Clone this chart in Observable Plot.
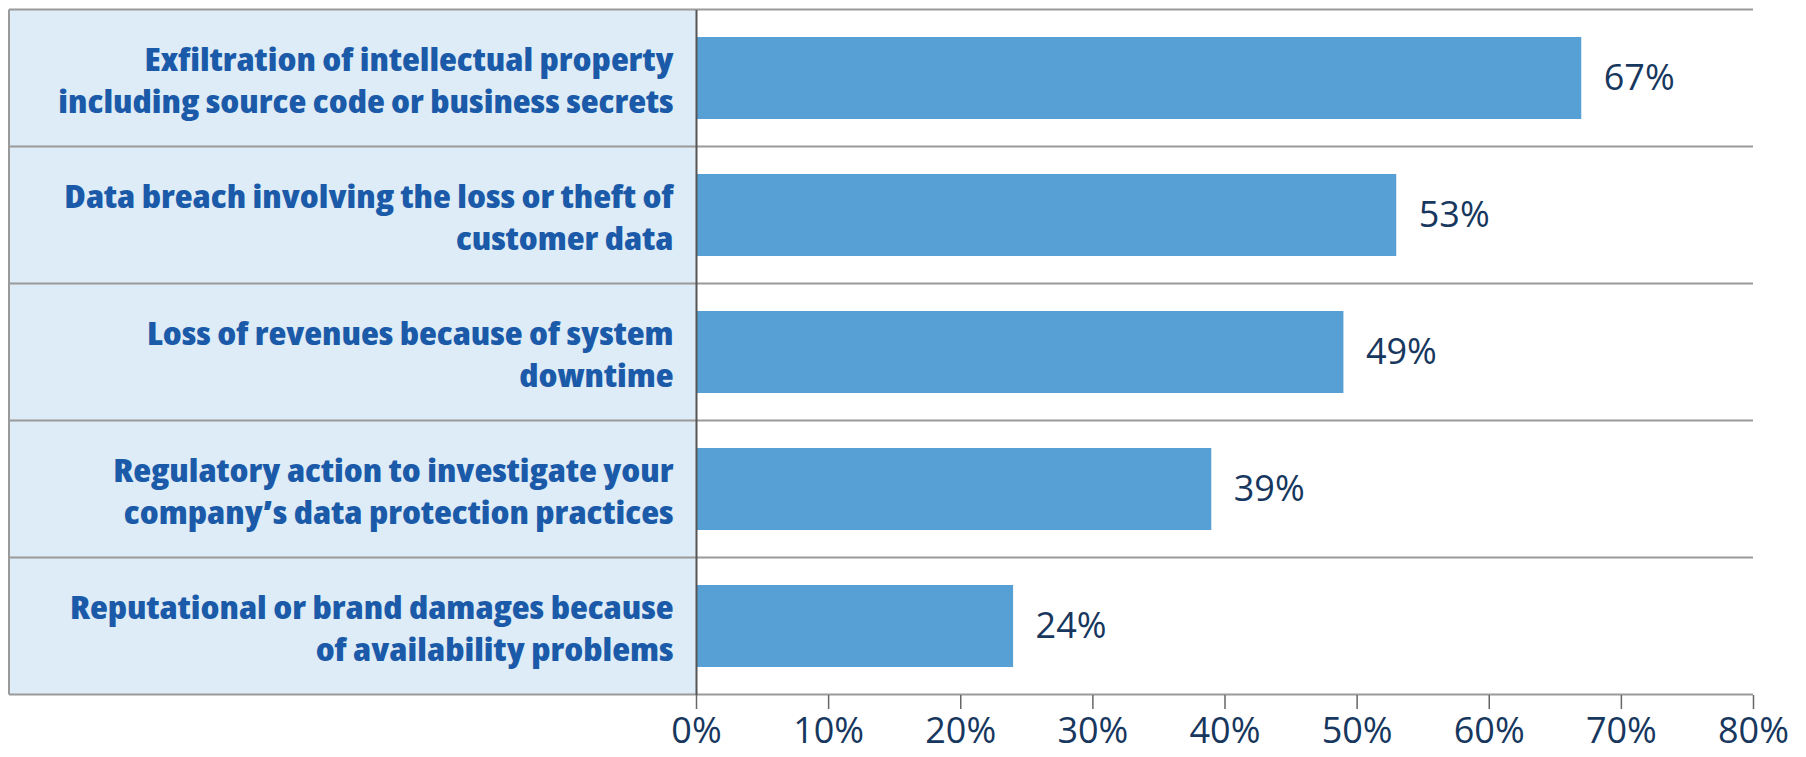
<!DOCTYPE html>
<html>
<head>
<meta charset="utf-8">
<script src="https://cdn.jsdelivr.net/npm/d3@7"></script>
<script src="https://cdn.jsdelivr.net/npm/@observablehq/plot@0.6"></script>
<style>
  html, body { margin: 0; padding: 0; background: #fff; }
  #chart svg { display: block; }
</style>
</head>
<body>
<div id="chart"></div>
<script>
// Data
const categories = [
  "Exfiltration of intellectual property\nincluding source code or business secrets",
  "Data breach involving the loss or theft of\ncustomer data",
  "Loss of revenues because of system\ndowntime",
  "Regulatory action to investigate your\ncompany’s data protection practices",
  "Reputational or brand damages because\nof availability problems"
];
const values = [67, 53, 49, 39, 24];
const xTicks = [0, 10, 20, 30, 40, 50, 60, 70, 80];

const data = categories.map((c, i) => ({category: c, value: values[i]}));

const barColor = "#56a0d5";
const labelColor = "#1a5aa8";
const valueColor = "#17375e";
const panelFill = "#ddecf7";
const gridColor = "#9a9a9a";

const plot = Plot.plot({
  width: 1806,
  height: 757,
  marginTop: 10,
  marginBottom: 62,
  marginLeft: 696,
  marginRight: 53,
  style: {fontFamily: "'Open Sans', sans-serif", background: "transparent"},
  x: {domain: [0, 80], ticks: xTicks, tickFormat: d => d + "%", label: null},
  y: {domain: categories, paddingInner: 0.4, paddingOuter: 0.2, axis: null},
  marks: [
    Plot.barX(data, {x: "value", y: "category", fill: barColor}),
    Plot.ruleX([0], {stroke: "#555", strokeWidth: 2}),
    Plot.axisX({
      ticks: xTicks,
      tickFormat: d => d + "%",
      tickSize: 14,
      tickPadding: 8,
      stroke: "#666",
      strokeWidth: 1.5,
      fill: valueColor,
      fontSize: 36,
      label: null
    }),
    Plot.text(data, {
      x: 0, y: "category", text: "category",
      textAnchor: "end", dx: -23, lineHeight: 1.3,
      fill: labelColor, fontSize: 32, fontWeight: 800,
      stroke: null
    }),
    Plot.text(data, {
      x: "value", y: "category", text: d => d.value + "%",
      textAnchor: "start", dx: 22,
      fill: valueColor, fontSize: 36, fontWeight: 500
    })
  ]
});

// Background panel and row separators, positioned from Plot's own scales
const svg = d3.select(plot);
const xs = plot.scale("x");
const ys = plot.scale("y");
const panelInset = 9;
const x0 = xs.apply(0);
const xEnd = xs.apply(80);
const gap = (ys.step - ys.bandwidth) / 2;
const rowTops = categories.map(c => ys.apply(c) - gap);
const bottom = ys.apply(categories[categories.length - 1]) - gap + ys.step;
const bounds = [...rowTops, bottom];

const bg = svg.insert("g", ":first-child");
bg.append("rect")
  .attr("x", panelInset).attr("y", bounds[0])
  .attr("width", x0 - panelInset).attr("height", bottom - bounds[0])
  .attr("fill", panelFill);
bg.selectAll("line.sep").data(bounds).join("line")
  .attr("class", "sep")
  .attr("x1", panelInset).attr("x2", xEnd)
  .attr("y1", d => d).attr("y2", d => d)
  .attr("stroke", gridColor).attr("stroke-width", 2);
bg.append("line")
  .attr("x1", panelInset).attr("x2", panelInset)
  .attr("y1", bounds[0]).attr("y2", bottom)
  .attr("stroke", gridColor).attr("stroke-width", 2);

// condensed bold look for category labels, widened slightly
const labelGroups = svg.selectAll("g[font-weight='800']");
labelGroups.style("font-stretch", "condensed");
labelGroups.selectAll("text").each(function() {
  const t = this.getAttribute("transform") || "";
  this.setAttribute("transform", t + " scale(1.15,1)");
});

document.getElementById("chart").appendChild(plot);
</script>
</body>
</html>
